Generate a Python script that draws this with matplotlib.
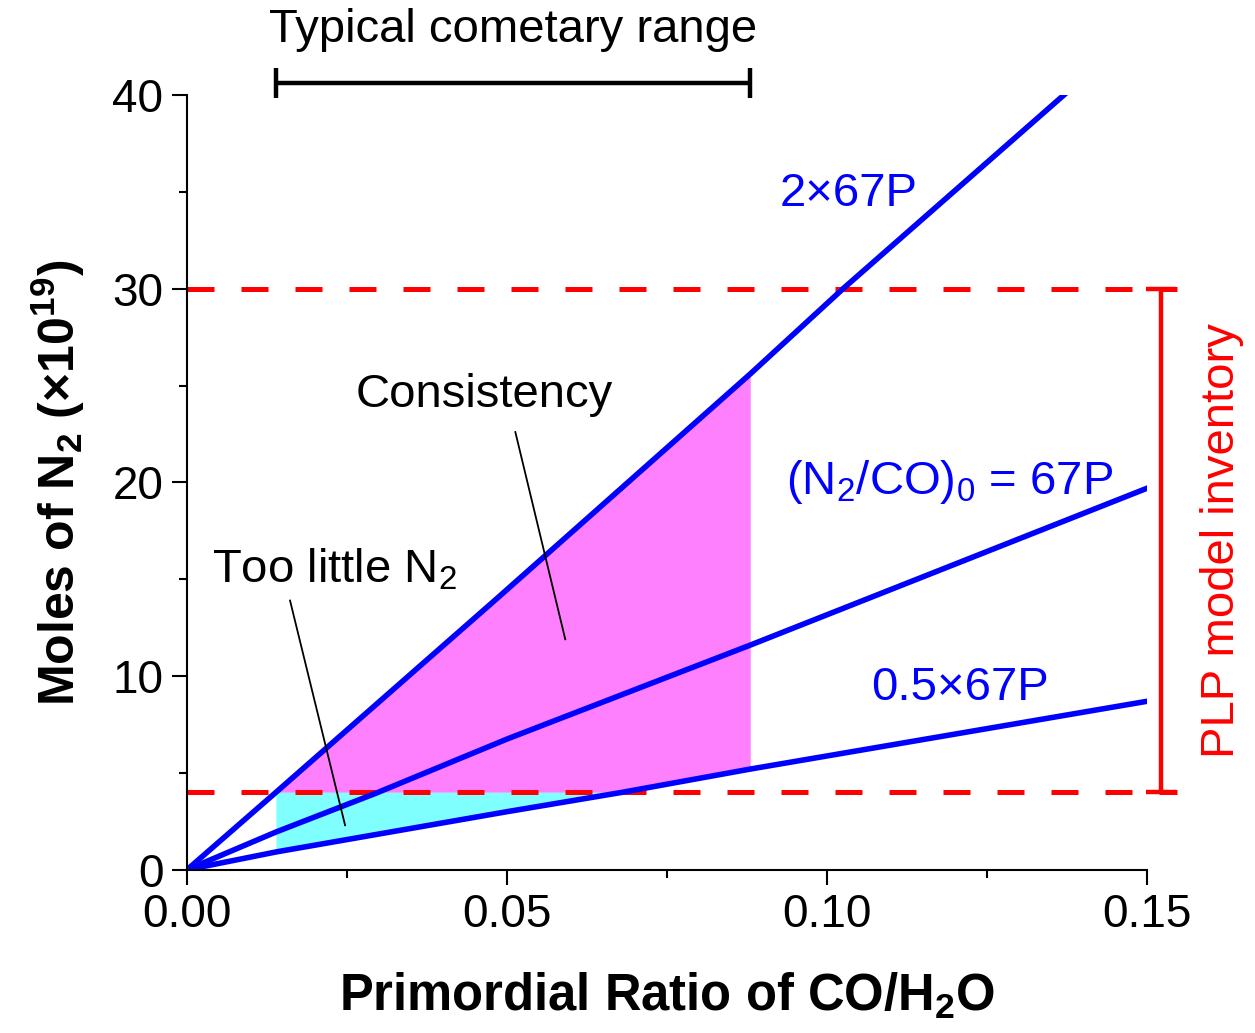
import numpy as np
import matplotlib
matplotlib.use("Agg")
import matplotlib.pyplot as plt
from matplotlib.ticker import MultipleLocator, FormatStrFormatter

plt.rcParams['font.family'] = ['Liberation Sans', 'DejaVu Sans']
plt.rcParams['mathtext.fontset'] = 'custom'
plt.rcParams['mathtext.rm'] = 'Liberation Sans'
plt.rcParams['mathtext.bf'] = 'Liberation Sans:bold'
plt.rcParams['mathtext.default'] = 'regular'

# values (CO/H2O ratio vs moles N2 in 1e19)
x_2x = [0.0, 0.0139, 0.0484, 0.088, 0.1025, 0.137, 0.15]
y_2x = [0.0, 4.0, 14.0, 25.6, 30.0, 40.0, 43.8]
x_1x = [0.0, 0.0139, 0.0295, 0.05, 0.088, 0.15]
y_1x = [0.0, 1.95, 3.95, 6.75, 11.6, 19.7]
x_half = [0.0, 0.0139, 0.05, 0.068, 0.088, 0.15]
y_half = [0.0, 0.92, 3.0, 4.0, 5.2, 8.7]

comet_range = [0.0139, 0.088]
plp_range = [4.0, 30.0]

blue = '#0000FF'
red = '#FF0000'
fs = 34

fig = plt.figure(figsize=(12.55, 10.33), dpi=100)
ax = fig.add_axes([0.149, 0.158, 0.765, 0.750])

# consistency region (magenta) and too-little region (cyan)
xg = np.linspace(comet_range[0], comet_range[1], 400)
up = np.interp(xg, x_2x, y_2x)
lo = np.interp(xg, x_half, y_half)
ax.fill_between(xg, np.maximum(lo, plp_range[0]), up,
                where=up >= plp_range[0], color='#FF80FF', lw=0)
ax.fill_between(xg, lo, plp_range[0], where=lo <= plp_range[0],
                color='#80FFFF', lw=0)

for yv in plp_range:
    ax.plot([0, 0.1546], [yv, yv], color=red, lw=3.6, dashes=(5.4, 5.4),
            clip_on=False)

ax.plot(x_2x, y_2x, color=blue, lw=4.0)
ax.plot(x_1x, y_1x, color=blue, lw=4.0)
ax.plot(x_half, y_half, color=blue, lw=4.0)

# PLP inventory bar
mid = np.mean(plp_range)
ax.errorbar([0.1521], [mid], yerr=[[mid - plp_range[0]], [plp_range[1] - mid]],
            color=red, elinewidth=3.2, capsize=11, capthick=3.2, fmt='none',
            clip_on=False)
ax.text(0.1617, 17.0, 'PLP model inventory', color=red, fontsize=fs,
        rotation=90, ha='center', va='center')

# cometary range bar
ax.errorbar([np.mean(comet_range)], [40.6], xerr=(comet_range[1] - comet_range[0]) / 2,
            color='black', elinewidth=3.2, capsize=11, capthick=3.2, fmt='none',
            clip_on=False)
ax.text(0.0509, 43.35, 'Typical cometary range', fontsize=fs, ha='center', va='center')

ax.text(0.1033, 34.9, '2×67P', color=blue, fontsize=fs, ha='center', va='center')
ax.text(0.1192, 20.0, '(N$_2$/CO)$_0$ = 67P', color=blue, fontsize=fs,
        ha='center', va='center')
ax.text(0.1208, 9.4, '0.5×67P', color=blue, fontsize=fs, ha='center', va='center')

ax.text(0.0465, 24.5, 'Consistency', fontsize=fs, ha='center', va='center')
ax.plot([0.0513, 0.0591], [22.6, 11.9], color='black', lw=1.3)
ax.text(0.0231, 15.5, 'Too little N$_2$', fontsize=fs, ha='center', va='center')
ax.plot([0.0161, 0.0247], [13.9, 2.3], color='black', lw=1.3)

ax.set_xlim(0, 0.15)
ax.set_ylim(0, 40)
ax.xaxis.set_major_locator(MultipleLocator(0.05))
ax.xaxis.set_minor_locator(MultipleLocator(0.025))
ax.xaxis.set_major_formatter(FormatStrFormatter('%.2f'))
ax.yaxis.set_major_locator(MultipleLocator(10))
ax.yaxis.set_minor_locator(MultipleLocator(5))
ax.spines['top'].set_visible(False)
ax.spines['right'].set_visible(False)
for s in ['left', 'bottom']:
    ax.spines[s].set_linewidth(1.5)
ax.tick_params(which='major', length=11, width=1.5, labelsize=33, pad=6)
ax.tick_params(which='minor', length=6, width=1.5)

ax.set_xlabel('Primordial Ratio of CO/H$_2$O', fontsize=36.5, fontweight='bold',
              labelpad=24)
ax.set_ylabel('Moles of N$_2$ (×10$^{\\mathbf{19}}$)', fontsize=36,
              fontweight='bold', labelpad=18)

fig.savefig('out.png', dpi=100)
